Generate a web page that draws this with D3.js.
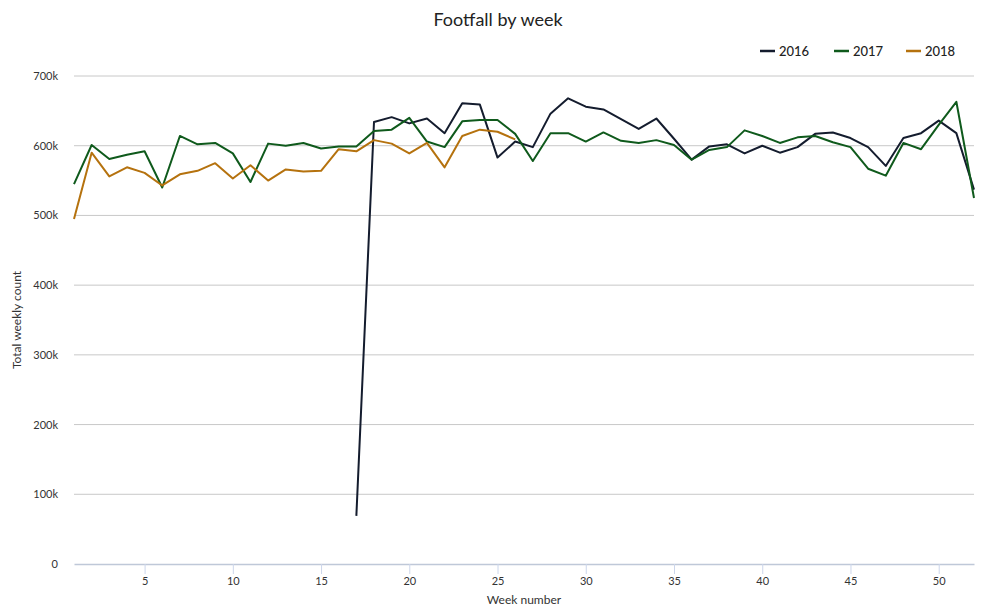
<!DOCTYPE html>
<html>
<head>
<meta charset="utf-8">
<script src="https://cdn.jsdelivr.net/npm/d3@7"></script>
<style>
    body { margin: 0; background: #fff; }
    svg { display: block; font-family: Lato, "Open Sans", sans-serif; }
</style>
</head>
<body>
<svg id="chart" width="982" height="606"></svg>
<script>
// Weekly footfall, week 1..52 (2016 starts at week 17, 2018 stops at week 26)
const footfall2016 = [
    null, null, null, null, null, null, null, null, null, null, null, null, null, null, null, null,
    69000, 634000, 641000, 632000, 639000, 618000, 661000, 659000, 583000, 606000,
    598000, 646000, 668000, 656000, 652000, 638000, 624000, 639000, 610000, 580000,
    599000, 602000, 589000, 600000, 590000, 598000, 617000, 619000, 611000, 598000,
    571000, 611000, 618000, 636000, 618000, 537000
];
const footfall2017 = [
    545000, 601000, 581000, 587000, 592000, 540000, 614000, 602000, 604000, 589000,
    548000, 603000, 600000, 604000, 596000, 599000, 599000, 621000, 623000, 640000,
    606000, 598000, 635000, 637000, 637000, 617000, 578000, 618000, 618000, 606000,
    619000, 607000, 604000, 608000, 601000, 580000, 594000, 598000, 622000, 614000,
    604000, 612000, 614000, 605000, 598000, 567000, 557000, 604000, 595000, 630000,
    663000, 525000
];
const footfall2018 = [
    495000, 590000, 556000, 569000, 561000, 543000, 559000, 564000, 575000, 553000,
    572000, 550000, 566000, 563000, 564000, 595000, 592000, 608000, 603000, 589000,
    604000, 569000, 614000, 623000, 620000, 609000
];
const xTicks = [5, 10, 15, 20, 25, 30, 35, 40, 45, 50];
const yTicks = [0, 100000, 200000, 300000, 400000, 500000, 600000, 700000];

const series = [
    { name: "2016", color: "#141c2e", values: footfall2016 },
    { name: "2017", color: "#0f5a1c", values: footfall2017 },
    { name: "2018", color: "#b5720e", values: footfall2018 },
];

const svg = d3.select('#chart');
const margin = { left: 74, right: 8, top: 76, bottom: 42 };
const width = 982, height = 606;

const x = d3.scaleLinear().domain([1, 52]).range([margin.left, width - margin.right]);
const y = d3.scaleLinear().domain([0, 700000]).range([height - margin.bottom, margin.top]);

// Title
svg.append('text')
    .attr('x', 498).attr('y', 26)
    .attr('text-anchor', 'middle')
    .attr('font-size', '18px')
    .attr('fill', '#222')
    .text('Footfall by week');

// Gridlines
svg.append('g')
    .selectAll('line')
    .data(yTicks.filter(d => d > 0))
    .join('line')
    .attr('x1', margin.left).attr('x2', width - margin.right)
    .attr('y1', d => y(d)).attr('y2', d => y(d))
    .attr('stroke', '#c8c8c8')
    .attr('stroke-width', 1);

// Y axis labels
const yAxis = svg.append('g')
    .attr('transform', `translate(${margin.left},0)`)
    .call(d3.axisLeft(y).tickValues(yTicks).tickSize(0).tickPadding(16)
        .tickFormat(d => d === 0 ? '0' : (d / 1000) + 'k'));
yAxis.select('.domain').remove();
yAxis.selectAll('text').attr('font-size', '11px').attr('fill', '#333')
    .attr('font-family', 'Lato, sans-serif');

// X axis
const xAxis = svg.append('g')
    .attr('transform', `translate(0,${y(0)})`)
    .call(d3.axisBottom(x).tickValues(xTicks).tickSize(10).tickPadding(3).tickSizeOuter(0));
xAxis.select('.domain').attr('stroke', '#bfc8d8').attr('stroke-width', 1.5);
xAxis.selectAll('.tick line').attr('stroke', '#ccd6eb');
xAxis.selectAll('text').attr('font-size', '11px').attr('fill', '#333')
    .attr('font-family', 'Lato, sans-serif');

// Axis titles
svg.append('text')
    .attr('x', (margin.left + width - margin.right) / 2).attr('y', 604)
    .attr('text-anchor', 'middle')
    .attr('font-size', '12px')
    .attr('fill', '#333')
    .text('Week number');

svg.append('text')
    .attr('transform', `translate(21,${(y(0) + y(700000)) / 2}) rotate(-90)`)
    .attr('text-anchor', 'middle')
    .attr('font-size', '12px')
    .attr('fill', '#333')
    .text('Total weekly count');

// Lines
const line = d3.line()
    .defined(d => d != null)
    .x((d, i) => x(i + 1))
    .y(d => y(d));

svg.append('g')
    .selectAll('path')
    .data(series)
    .join('path')
    .attr('d', d => line(d.values))
    .attr('fill', 'none')
    .attr('stroke', d => d.color)
    .attr('stroke-width', 2)
    .attr('stroke-linejoin', 'round');

// Legend
const legendX = [760, 834, 906];
const legend = svg.append('g')
    .selectAll('g')
    .data(series)
    .join('g')
    .attr('transform', (d, i) => `translate(${legendX[i]},51)`);
legend.append('line')
    .attr('x1', 0).attr('x2', 15)
    .attr('stroke', d => d.color)
    .attr('stroke-width', 2.5);
legend.append('text')
    .attr('x', 19).attr('dy', '0.35em')
    .attr('font-size', '13px')
    .attr('font-weight', 500)
    .attr('fill', '#222')
    .text(d => d.name);
</script>
</body>
</html>
